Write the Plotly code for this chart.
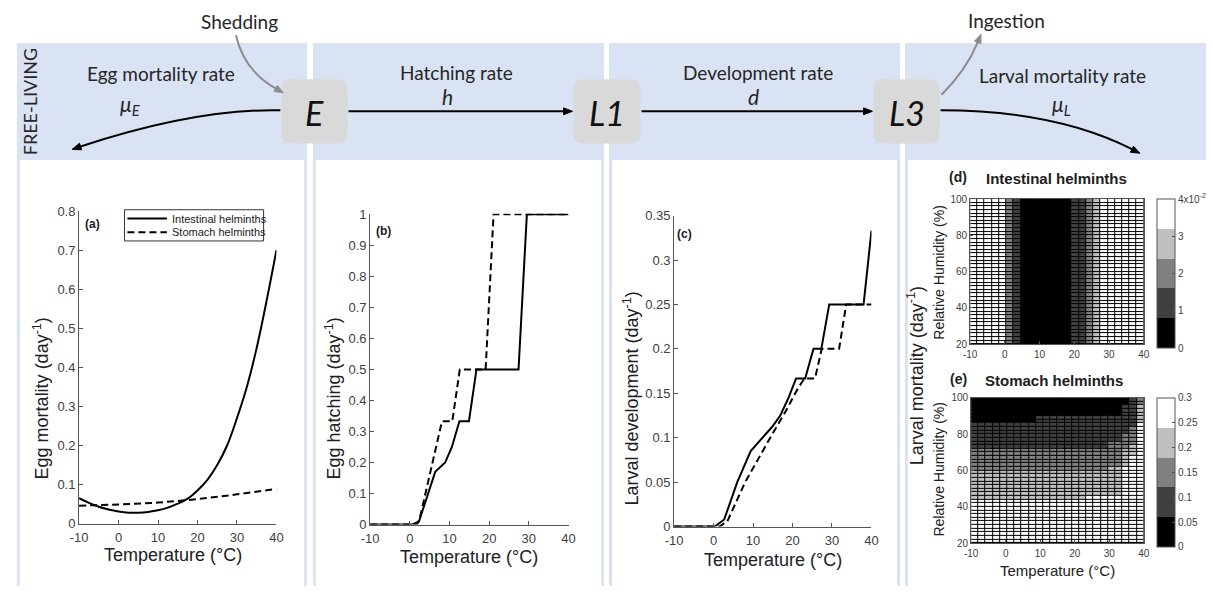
import math
import numpy as np
import plotly.graph_objects as go

W, H = 1213, 594

# ------------------------------------------------------------------ data
# (a) egg mortality (day^-1) vs temperature
temp_mort_int = [-10, -7.5, -5, -2.5, 0, 2.5, 5, 7.5, 10, 12.5, 15, 17.5, 20, 22.5, 25, 27.5, 30, 32.5, 35, 37.5, 40]
egg_mortality_int = [0.065, 0.053, 0.043, 0.036, 0.031, 0.028, 0.028, 0.030, 0.034, 0.041, 0.051, 0.064,
                     0.085, 0.112, 0.150, 0.200, 0.270, 0.350, 0.450, 0.570, 0.700]
temp_mort_sto = [-10, 0, 10, 20, 30, 40]
egg_mortality_sto = [0.046, 0.049, 0.054, 0.063, 0.075, 0.089]

# (b) egg hatching (day^-1)
temp_hatch_int = [-10, 0.5, 2.3, 6.4, 8.9, 10.6, 12.5, 14.9, 16.8, 27.4, 29.5, 40]
egg_hatch_int = [0, 0, 0.01, 0.17, 0.2, 0.25, 0.333, 0.333, 0.5, 0.5, 1, 1]
temp_hatch_sto = [-10, 1.8, 2.5, 8.1, 10.7, 12.6, 19.1, 21.1, 40]
egg_hatch_sto = [0, 0, 0.02, 0.333, 0.333, 0.5, 0.5, 1, 1]

# (c) larval development (day^-1)
temp_dev_int = [-10, 0.3, 2.7, 6.0, 9.4, 12.3, 14.8, 16.9, 19.0, 20.9, 23.2, 25.3, 27.3, 29.3, 38.0, 40]
larval_dev_int = [0, 0, 0.008, 0.05, 0.085, 0.1, 0.112, 0.125, 0.145, 0.1667, 0.1667, 0.2, 0.2, 0.25, 0.25, 0.333]
temp_dev_sto = [-10, 1.5, 3.5, 8.0, 15.0, 18.3, 21.3, 23.0, 25.7, 27.4, 31.8, 33.6, 40]
larval_dev_sto = [0, 0, 0.006, 0.05, 0.105, 0.13, 0.155, 0.1667, 0.1667, 0.2, 0.2, 0.25, 0.25]

series_names = ["Intestinal helminths", "Stomach helminths"]

# (d) intestinal helminths larval mortality per temperature column (same at all humidities)
int_larval_mort = [0.036, 0.036, 0.036, 0.036, 0.036, 0.020, 0.012, 0.004, 0.004, 0.004, 0.004, 0.004,
                   0.004, 0.004, 0.012, 0.012, 0.020, 0.028, 0.036, 0.036, 0.036, 0.036, 0.036, 0.036]

# (e) stomach helminths: per temperature column, relative humidity above which each class holds
sto_class_values = [0.03, 0.09, 0.15, 0.21, 0.27]   # black, dark, mid, light, white
sto_rh_black = [86, 86, 86, 86, 86, 86, 86, 86, 86, 90, 90, 90, 90, 90, 90, 90, 90, 90, 90, 90, 90, 96, 101, 101]
sto_rh_dark = [72, 72, 72, 72, 72, 72, 72, 72, 72, 72, 72, 72, 72, 72, 72, 72, 72, 72, 72, 76, 76, 80, 84, 101]
sto_rh_mid = [60, 60, 60, 60, 60, 60, 60, 60, 60, 60, 60, 60, 60, 60, 60, 60, 60, 60, 60, 62, 62, 72, 74, 96]
sto_rh_light = [44, 44, 44, 44, 44, 44, 44, 44, 44, 44, 44, 44, 44, 44, 44, 44, 46, 46, 46, 46, 46, 62, 68, 86]

temp_edges = np.linspace(-10, 40, 25)
rh_edges = np.arange(20, 102, 2)

# ------------------------------------------------------------------ helpers
def px(x):
    return x / W


def py(y):
    return 1 - y / H


BLUE = "#dae3f3"
BOXGRAY = "#d9d9d9"
TXT = "#262626"
AXC = "#555555"
TICKC = "#404040"
DIAG_FONT = "Lato, 'Open Sans', sans-serif"
CHART_FONT = "'Liberation Sans', Arial, sans-serif"

shapes = []
annotations = []

# column panels
for (l, r) in [(8, 302), (308, 603), (608, 903), (908, 1213)]:
    shapes.append(dict(type="rect", xref="paper", yref="paper", x0=px(l), x1=px(r), y0=py(594), y1=py(37),
                       fillcolor=BLUE, line_width=0, layer="below"))
    rr = r - 3 if r < W else W
    shapes.append(dict(type="rect", xref="paper", yref="paper", x0=px(l + 3), x1=px(rr), y0=py(594), y1=py(157),
                       fillcolor="white", line_width=0, layer="below"))


def rounded(x0, y0, x1, y1, r):
    return (f"M {px(x0 + r)},{py(y0)} L {px(x1 - r)},{py(y0)} Q {px(x1)},{py(y0)} {px(x1)},{py(y0 + r)} "
            f"L {px(x1)},{py(y1 - r)} Q {px(x1)},{py(y1)} {px(x1 - r)},{py(y1)} "
            f"L {px(x0 + r)},{py(y1)} Q {px(x0)},{py(y1)} {px(x0)},{py(y1 - r)} "
            f"L {px(x0)},{py(y0 + r)} Q {px(x0)},{py(y0)} {px(x0 + r)},{py(y0)} Z")


for (x0, x1, lab) in [(276, 343, "E"), (572, 640, "L1"), (876, 943, "L3")]:
    shapes.append(dict(type="path", xref="paper", yref="paper", path=rounded(x0, 74, x1, 140, 10),
                       fillcolor=BOXGRAY, line_width=0, layer="below"))
    annotations.append(dict(x=px((x0 + x1) / 2), y=py(108), xref="paper", yref="paper", text=f"<i>{lab}</i>",
                            showarrow=False, font=dict(family=DIAG_FONT, size=34, color="#111"),
                            xanchor="center", yanchor="middle"))


def head(tx, ty, dx, dy, color, L=9, Wd=7):
    n = math.hypot(dx, dy)
    ux, uy = dx / n, dy / n
    bx, by = tx - ux * L, ty - uy * L
    qx, qy = -uy, ux
    p1 = (bx + qx * Wd / 2, by + qy * Wd / 2)
    p2 = (bx - qx * Wd / 2, by - qy * Wd / 2)
    shapes.append(dict(type="path", xref="paper", yref="paper",
                       path=f"M {px(tx)},{py(ty)} L {px(p1[0])},{py(p1[1])} L {px(p2[0])},{py(p2[1])} Z",
                       fillcolor=color, line=dict(color=color, width=1), layer="above"))
    return bx, by


def curved_arrow(p0, p1, p2, color, width=2):
    dx, dy = p2[0] - p1[0], p2[1] - p1[1]
    bx, by = head(p2[0], p2[1], dx, dy, color)
    shapes.append(dict(type="path", xref="paper", yref="paper",
                       path=f"M {px(p0[0])},{py(p0[1])} Q {px(p1[0])},{py(p1[1])} {px(bx)},{py(by)}",
                       line=dict(color=color, width=width), layer="above"))


def straight_arrow(x0, x1, y, color):
    bx, by = head(x1, y, 1, 0, color)
    shapes.append(dict(type="line", xref="paper", yref="paper", x0=px(x0), x1=px(bx), y0=py(y), y1=py(y),
                       line=dict(color=color, width=2), layer="above"))


straight_arrow(344, 571, 107, "black")
straight_arrow(641, 875, 107, "black")
curved_arrow((275, 106), (190, 104), (64, 146), "black")
curved_arrow((944, 106), (1060, 106), (1146, 150), "black")
curved_arrow((230, 29), (238, 65), (278, 88), "#8c8c8c")
curved_arrow((945, 90), (970, 65), (985, 28), "#8c8c8c")


def diag_text(x, y, text, size=19, angle=0):
    annotations.append(dict(x=px(x), y=py(y), xref="paper", yref="paper", text=text, showarrow=False,
                            textangle=angle, font=dict(family=DIAG_FONT, size=size, color=TXT),
                            xanchor="center", yanchor="middle"))


diag_text(234, 15, "Shedding")
diag_text(1011, 14, "Ingestion")
diag_text(21, 97, "FREE-LIVING", size=18, angle=-90)
diag_text(154, 68, "Egg mortality rate")
diag_text(123, 101, "<i>μ<sub>E</sub></i>", size=21)
diag_text(453, 67, "Hatching rate")
diag_text(444, 92, "<i>h</i>", size=21)
diag_text(759, 67, "Development rate")
diag_text(754, 92, "<i>d</i>", size=21)
diag_text(1068, 70, "Larval mortality rate")
diag_text(1067, 101, "<i>μ<sub>L</sub></i>", size=21)


def chart_text(x, y, text, size=13, angle=0, bold=False, anchor="center"):
    if bold:
        text = f"<b>{text}</b>"
    annotations.append(dict(x=px(x), y=py(y), xref="paper", yref="paper", text=text, showarrow=False,
                            textangle=angle, font=dict(family=CHART_FONT, size=size, color="#202020"),
                            xanchor=anchor, yanchor="middle"))


chart_text(33, 402, "Egg mortality (day<sup>-1</sup>)", size=18, angle=-90)
chart_text(329, 402, "Egg hatching (day<sup>-1</sup>)", size=18, angle=-90)
chart_text(631, 402, "Larval development (day<sup>-1</sup>)", size=18, angle=-90)
chart_text(166, 562, "Temperature (°C)", size=18)
chart_text(466, 564, "Temperature (°C)", size=18)
chart_text(774, 567, "Temperature (°C)", size=18)
chart_text(85, 223, "(a)", size=12, bold=True)
chart_text(380, 230, "(b)", size=12, bold=True)
chart_text(685, 233, "(c)", size=12, bold=True)
chart_text(962, 174, "(d)", size=14, bold=True)
chart_text(1062, 176, "Intestinal helminths", size=15, bold=True)
chart_text(962, 382, "(e)", size=14, bold=True)
chart_text(1059, 383, "Stomach helminths", size=15, bold=True)
chart_text(943, 272, "Relative Humidity (%)", size=14, angle=-90)
chart_text(942, 474, "Relative Humidity (%)", size=14, angle=-90)
chart_text(919, 378, "Larval mortality (day<sup>-1</sup>)", size=18, angle=-90)
chart_text(1063, 578, "Temperature (°C)", size=15)

# legend of panel (a), drawn as a framed key
shapes.append(dict(type="rect", xref="paper", yref="paper", x0=px(117), x1=px(258), y0=py(240), y1=py(208),
                   fillcolor="white", line=dict(color="#333333", width=1), layer="above"))
shapes.append(dict(type="line", xref="paper", yref="paper", x0=px(120), x1=px(160), y0=py(217), y1=py(217),
                   line=dict(color="black", width=2), layer="above"))
shapes.append(dict(type="line", xref="paper", yref="paper", x0=px(120), x1=px(160), y0=py(231), y1=py(231),
                   line=dict(color="black", width=2, dash="7px,4px"), layer="above"))
chart_text(163, 217, series_names[0], size=11, anchor="left")
chart_text(163, 231, series_names[1], size=11, anchor="left")

# ------------------------------------------------------------------ traces
fig = go.Figure()
line_solid = dict(color="black", width=2)
line_dash = dict(color="black", width=2, dash="7px,4px")

fig.add_trace(go.Scatter(x=temp_mort_int, y=egg_mortality_int, mode="lines", line=line_solid,
                         name=series_names[0], xaxis="x", yaxis="y", line_shape="spline"))
fig.add_trace(go.Scatter(x=temp_mort_sto, y=egg_mortality_sto, mode="lines", line=line_dash,
                         name=series_names[1], xaxis="x", yaxis="y", line_shape="spline"))
fig.add_trace(go.Scatter(x=temp_hatch_sto, y=egg_hatch_sto, mode="lines", line=line_dash,
                         name=series_names[1], xaxis="x2", yaxis="y2"))
fig.add_trace(go.Scatter(x=temp_hatch_int, y=egg_hatch_int, mode="lines", line=line_solid,
                         name=series_names[0], xaxis="x2", yaxis="y2"))
fig.add_trace(go.Scatter(x=temp_dev_sto, y=larval_dev_sto, mode="lines", line=line_dash,
                         name=series_names[1], xaxis="x3", yaxis="y3"))
fig.add_trace(go.Scatter(x=temp_dev_int, y=larval_dev_int, mode="lines", line=line_solid,
                         name=series_names[0], xaxis="x3", yaxis="y3"))

gray5 = [[0, "#000000"], [0.2, "#000000"], [0.2, "#404040"], [0.4, "#404040"], [0.4, "#808080"],
         [0.6, "#808080"], [0.6, "#bfbfbf"], [0.8, "#bfbfbf"], [0.8, "#ffffff"], [1, "#ffffff"]]

z_d = [list(int_larval_mort) for _ in range(len(rh_edges) - 1)]
z_e = []
for i in range(len(rh_edges) - 1):
    rh = (rh_edges[i] + rh_edges[i + 1]) / 2
    row = []
    for c in range(len(temp_edges) - 1):
        if rh >= sto_rh_black[c]:
            row.append(sto_class_values[0])
        elif rh >= sto_rh_dark[c]:
            row.append(sto_class_values[1])
        elif rh >= sto_rh_mid[c]:
            row.append(sto_class_values[2])
        elif rh >= sto_rh_light[c]:
            row.append(sto_class_values[3])
        else:
            row.append(sto_class_values[4])
    z_e.append(row)

cb_common = dict(thickness=18, thicknessmode="pixels", len=149, lenmode="pixels", xanchor="left",
                 yanchor="top", xpad=0, ypad=0, outlinecolor=AXC, outlinewidth=1, ticks="inside",
                 ticklen=3, tickcolor=AXC, tickfont=dict(family=CHART_FONT, size=10, color=TICKC))

fig.add_trace(go.Heatmap(x=temp_edges, y=rh_edges, z=z_d, colorscale=gray5, zmin=0, zmax=0.04,
                         xgap=1, ygap=1, xaxis="x4", yaxis="y4", showscale=True, name=series_names[0],
                         colorbar=dict(x=px(1163), y=py(197),
                                       tickvals=[0, 0.01, 0.02, 0.03, 0.04],
                                       ticktext=["0", "1", "2", "3", "4x10<sup>-2</sup>"], **cb_common)))
fig.add_trace(go.Heatmap(x=temp_edges, y=rh_edges, z=z_e, colorscale=gray5, zmin=0, zmax=0.3,
                         xgap=1, ygap=1, xaxis="x5", yaxis="y5", showscale=True, name=series_names[1],
                         colorbar=dict(x=px(1163), y=py(401),
                                       tickvals=[0, 0.05, 0.1, 0.15, 0.2, 0.25, 0.3],
                                       ticktext=["0", "0.05", "0.1", "0.15", "0.2", "0.25", "0.3"], **cb_common)))

for ax in ["4", "5"]:
    shapes.append(dict(type="rect", xref="x" + ax, yref="y" + ax, x0=-10, x1=40, y0=20, y1=100,
                       fillcolor="black", line_width=0, layer="below"))

# ------------------------------------------------------------------ axes
def xdom(a, b):
    return [a / W, b / W]


def ydom(top, bottom):
    return [1 - bottom / H, 1 - top / H]


def axis_style(size=13, mirror=False, standoff=None):
    d = dict(showline=True, linecolor=AXC, linewidth=1, mirror=mirror, ticks="inside", ticklen=4,
             tickcolor=AXC, showgrid=False, zeroline=False,
             tickfont=dict(family=CHART_FONT, size=size, color=TICKC))
    if standoff is not None:
        d["ticklabelstandoff"] = standoff
    return d


tx = [-10, 0, 10, 20, 30, 40]
layout_axes = {}
panels = [
    ("", (71, 271), (209.5, 530), [0, 0.8], [round(0.1 * i, 1) for i in range(9)],
     ["0"] + [f"{0.1 * i:.1f}" for i in range(1, 9)]),
    ("2", (366, 567), (212, 531), [0, 1.002], [round(0.1 * i, 1) for i in range(11)],
     ["0"] + [f"{0.1 * i:.1f}" for i in range(1, 10)] + ["1"]),
    ("3", (674, 874), (214, 533), [0, 0.35], [0, 0.05, 0.1, 0.15, 0.2, 0.25, 0.3, 0.35],
     ["0", "0.05", "0.1", "0.15", "0.2", "0.25", "0.3", "0.35"]),
]
for key, (xa, xb), (yt, yb), yr, yv, yt_text in panels:
    xs = axis_style(standoff=2)
    xs.update(domain=xdom(xa, xb), anchor="y" + key, range=[-10, 40], tickvals=tx,
              ticktext=[str(t) for t in tx])
    ys = axis_style()
    ys.update(domain=ydom(yt, yb), anchor="x" + key, range=yr, tickvals=yv, ticktext=yt_text)
    layout_axes["xaxis" + key] = xs
    layout_axes["yaxis" + key] = ys

for key, (xa, xb), (yt, yb) in [("4", (974, 1150), (197, 346)), ("5", (975, 1150), (401, 550))]:
    xs = axis_style(size=10, mirror=True, standoff=1)
    xs.update(domain=xdom(xa, xb), anchor="y" + key, range=[-10, 40], tickvals=tx,
              ticktext=[str(t) for t in tx], ticklen=3)
    ys = axis_style(size=10, mirror=True)
    ys.update(domain=ydom(yt, yb), anchor="x" + key, range=[20, 100], tickvals=[20, 40, 60, 80, 100],
              ticktext=["20", "40", "60", "80", "100"], ticklen=3)
    layout_axes["xaxis" + key] = xs
    layout_axes["yaxis" + key] = ys

fig.update_layout(
    width=W, height=H, margin=dict(l=0, r=0, t=0, b=0),
    paper_bgcolor="white", plot_bgcolor="rgba(0,0,0,0)",
    shapes=shapes, annotations=annotations,
    showlegend=False,
    **layout_axes,
)

fig.write_html("out.html")
